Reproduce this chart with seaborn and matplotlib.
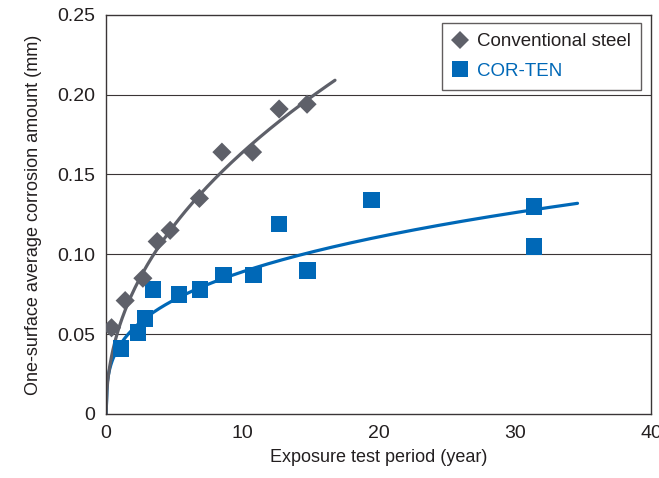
import numpy as np
import pandas as pd
import matplotlib
matplotlib.use("Agg")
import matplotlib.pyplot as plt
import seaborn as sns
from matplotlib.lines import Line2D

# conventional steel measurements (year, mm)
steel_years = [0.4, 1.4, 2.7, 3.75, 4.7, 6.85, 8.5, 10.75, 12.7, 14.75]
steel_loss = [0.054, 0.071, 0.085, 0.108, 0.115, 0.135, 0.164, 0.164, 0.191, 0.194]

# COR-TEN measurements (year, mm)
corten_years = [1.1, 2.35, 2.85, 3.45, 5.35, 6.9, 8.6, 10.8, 12.7, 14.8, 19.5, 31.4, 31.4]
corten_loss = [0.041, 0.051, 0.060, 0.078, 0.075, 0.078, 0.087, 0.087, 0.119, 0.090, 0.134, 0.130, 0.105]

# trend curves y = a * x^b (coefficients)
steel_fit = (0.0555, 0.47)
corten_fit = (0.0429, 0.317)
steel_fit_end = 16.8
corten_fit_end = 34.6

x_ticks = [0, 10, 20, 30, 40]
y_ticks = [0, 0.05, 0.10, 0.15, 0.20, 0.25]
y_tick_labels = ["0", "0.05", "0.10", "0.15", "0.20", "0.25"]

GRAY = "#5e6069"
BLUE = "#0068b7"
DARK = "#3a3536"

sns.set_theme(style="white")
plt.rcParams["font.family"] = ["Liberation Sans", "DejaVu Sans"]

df_steel = pd.DataFrame({"year": steel_years, "loss": steel_loss})
df_corten = pd.DataFrame({"year": corten_years, "loss": corten_loss})

xs_steel = np.linspace(0, steel_fit_end, 300)
xs_corten = np.linspace(0, corten_fit_end, 400)
df_steel_fit = pd.DataFrame({"year": xs_steel, "loss": steel_fit[0] * xs_steel ** steel_fit[1]})
df_corten_fit = pd.DataFrame({"year": xs_corten, "loss": corten_fit[0] * xs_corten ** corten_fit[1]})

fig = plt.figure(figsize=(6.59, 4.78), dpi=100)
ax = fig.add_axes([0.161, 0.134, 0.827, 0.835])

for y in y_ticks[1:-1]:
    ax.axhline(y, color=DARK, lw=0.8, zorder=0)

sns.lineplot(data=df_corten_fit, x="year", y="loss", ax=ax, color=BLUE, lw=2.3, zorder=2)
sns.lineplot(data=df_steel_fit, x="year", y="loss", ax=ax, color=GRAY, lw=2.3, zorder=2)
sns.scatterplot(data=df_corten, x="year", y="loss", ax=ax, marker="s", s=145,
                color=BLUE, edgecolor="none", linewidth=0, zorder=3)
sns.scatterplot(data=df_steel, x="year", y="loss", ax=ax, marker="D", s=95,
                color=GRAY, edgecolor="none", linewidth=0, zorder=4)

ax.set_xlim(0, 40)
ax.set_ylim(0, 0.25)
ax.set_xticks(x_ticks)
ax.set_yticks(y_ticks)
ax.set_yticklabels(y_tick_labels)
ax.tick_params(axis="x", direction="in", length=4, width=0.8, color=DARK,
               labelsize=14, labelcolor="#231f20", pad=8)
ax.tick_params(axis="y", length=0, labelsize=14, labelcolor="#231f20", pad=8)
ax.set_xlabel("Exposure test period (year)", fontsize=13, color="#231f20", labelpad=5)
ax.set_ylabel("One-surface average corrosion amount (mm)", fontsize=13, color="#231f20", labelpad=11)

for sp in ax.spines.values():
    sp.set_color(DARK)
    sp.set_linewidth(1.0)

handles = [
    Line2D([], [], marker="D", ls="none", color=GRAY, markersize=9.5, markeredgewidth=0),
    Line2D([], [], marker="s", ls="none", color=BLUE, markersize=11.5, markeredgewidth=0),
]
leg = ax.legend(handles, ["Conventional steel", "COR-TEN"], loc="upper right",
                bbox_to_anchor=(0.982, 0.98), fontsize=13.5, frameon=True, fancybox=False,
                handlelength=0.8, handletextpad=0.5, borderpad=0.55, labelspacing=0.65,
                borderaxespad=0)
leg.get_frame().set_edgecolor(DARK)
leg.get_frame().set_linewidth(1.0)
leg.get_texts()[0].set_color("#231f20")
leg.get_texts()[1].set_color(BLUE)

fig.savefig("out.png", dpi=100)
